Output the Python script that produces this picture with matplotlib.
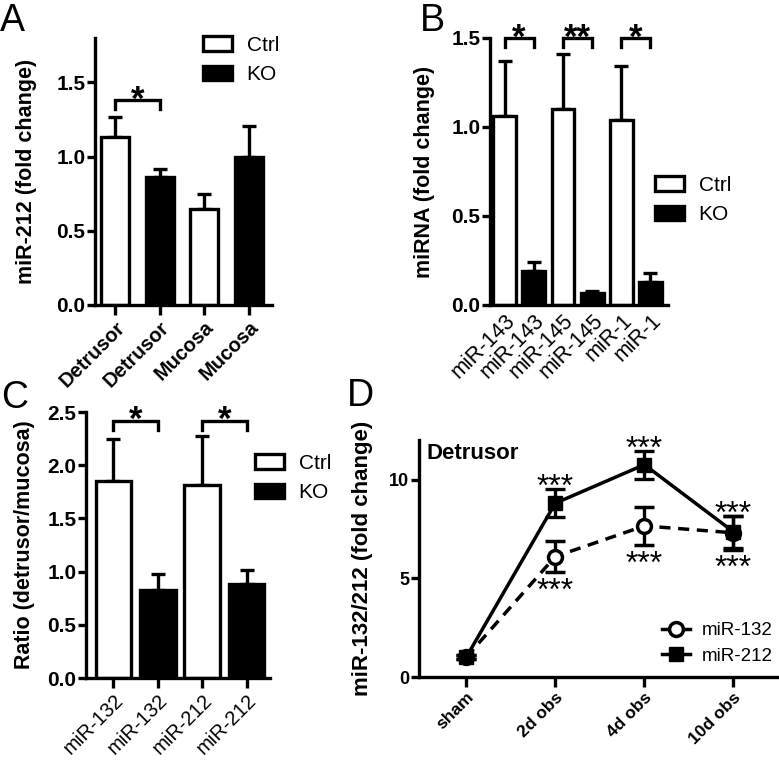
import matplotlib
matplotlib.use("Agg")
import matplotlib.pyplot as plt
from matplotlib.patches import Patch
from matplotlib.lines import Line2D
import numpy as np

plt.rcParams['font.family'] = ['Liberation Sans', 'DejaVu Sans']

# ---------------- data ----------------
# Panel A
a_labels = ["Detrusor", "Detrusor", "Mucosa", "Mucosa"]
a_groups = ["Ctrl", "KO", "Ctrl", "KO"]
a_values = [1.13, 0.86, 0.65, 1.00]
a_errors = [0.14, 0.06, 0.10, 0.21]
a_sig = [(0, 1, "*", 1.38)]

# Panel B
b_labels = ["miR-143", "miR-143", "miR-145", "miR-145", "miR-1", "miR-1"]
b_groups = ["Ctrl", "KO", "Ctrl", "KO", "Ctrl", "KO"]
b_values = [1.06, 0.19, 1.10, 0.07, 1.04, 0.13]
b_errors = [0.31, 0.05, 0.31, 0.01, 0.30, 0.05]
b_sig = [(0, 1, "*", 1.50), (2, 3, "**", 1.50), (4, 5, "*", 1.50)]

# Panel C
c_labels = ["miR-132", "miR-132", "miR-212", "miR-212"]
c_groups = ["Ctrl", "KO", "Ctrl", "KO"]
c_values = [1.85, 0.83, 1.81, 0.88]
c_errors = [0.40, 0.145, 0.46, 0.135]
c_sig = [(0, 1, "*", 2.42), (2, 3, "*", 2.42)]

# Panel D
d_labels = ["sham", "2d obs", "4d obs", "10d obs"]
d_mir132 = [1.0, 6.1, 7.65, 7.3]
d_mir132_err = [0.1, 0.78, 0.97, 0.85]
d_mir212 = [1.0, 8.8, 10.75, 7.35]
d_mir212_err = [0.1, 0.72, 0.70, 0.8]
d_sig_above = ["", "***", "***", "***"]
d_sig_below = ["", "***", "***", "***"]

# ---------------- layout helpers ----------------
W, H = 779, 761
fig = plt.figure(figsize=(W / 100, H / 100), dpi=100)


def ax_px(x0, y0, x1, y1):
    return fig.add_axes([x0 / W, 1 - y1 / H, (x1 - x0) / W, (y1 - y0) / H])


LW = 2.4
fills = {"Ctrl": "white", "KO": "black"}


def style_axes(ax, xticks=True, ytick_fs=15):
    for s in ["top", "right"]:
        ax.spines[s].set_visible(False)
    for s in ["left", "bottom"]:
        ax.spines[s].set_linewidth(LW)
    ax.tick_params(axis="y", width=LW, length=6, labelsize=ytick_fs, pad=1)
    if xticks:
        ax.tick_params(axis="x", width=LW, length=7, pad=2)
    else:
        ax.tick_params(axis="x", length=0, pad=4)
    for t in ax.get_yticklabels():
        t.set_fontweight("bold")


def bar_panel(ax, labels, groups, values, errors, sig, width, ylim, yticks,
              xlim, label_bold, xticks=True, label_fs=14.5, leg_frac=0.032):
    x = np.arange(len(values))
    colors = [fills[g] for g in groups]
    ax.errorbar(x, values, yerr=[np.zeros(len(values)), errors], fmt="none",
                ecolor="black", elinewidth=LW, capsize=5, capthick=LW, zorder=1)
    ax.bar(x, values, width=width, color=colors, edgecolor="black",
           linewidth=LW, zorder=2)
    ax.set_xlim(*xlim)
    ax.set_ylim(*ylim)
    ax.set_yticks(yticks)
    ax.set_yticklabels([f"{v:.1f}" for v in yticks])
    ax.set_xticks(x)
    ax.set_xticklabels(labels, rotation=45, ha="right", rotation_mode="anchor",
                       fontsize=label_fs,
                       fontweight="bold" if label_bold else "normal")
    style_axes(ax, xticks=xticks)
    for i, j, s, yb in sig:
        leg = (ylim[1] - ylim[0]) * leg_frac
        ax.plot([x[i], x[i], x[j], x[j]], [yb - leg, yb, yb, yb - leg],
                color="black", lw=LW, solid_joinstyle="miter", clip_on=False,
                zorder=3)
        ax.annotate(s, xy=((x[i] + x[j]) / 2, yb), xytext=(0, -7),
                    textcoords="offset points", ha="center", va="baseline",
                    fontsize=25, fontweight="bold", annotation_clip=False)
    ax.set_facecolor("none")


def bar_legend(ax, anchor_px, fs=15):
    handles = [Patch(facecolor="white", edgecolor="black", linewidth=LW, label="Ctrl"),
               Patch(facecolor="black", edgecolor="black", linewidth=LW, label="KO")]
    fx, fy = anchor_px[0] / W, 1 - anchor_px[1] / H
    ax.legend(handles=handles, loc="upper left", bbox_to_anchor=(fx, fy),
              bbox_transform=fig.transFigure, frameon=False, fontsize=fs,
              handlelength=1.4, handleheight=0.7, handletextpad=0.7,
              labelspacing=0.5, borderpad=0, borderaxespad=0)


def set_ylabel_px(ax, text, xpx, fs=15.5):
    ax.set_ylabel(text, fontsize=fs, fontweight="bold")
    bb = ax.get_position()
    xfig = xpx / W
    ax.yaxis.set_label_coords((xfig - bb.x0) / bb.width, 0.5)


# ---------------- Panel A ----------------
axA = ax_px(95, 38, 272, 305)
bar_panel(axA, a_labels, a_groups, a_values, a_errors, a_sig, width=0.63,
          ylim=(0, 1.8), yticks=[0.0, 0.5, 1.0, 1.5], xlim=(-0.45, 3.52),
          label_bold=True, label_fs=14.5)
bar_legend(axA, (203, 36))
set_ylabel_px(axA, "miR-212 (fold change)", 37)

# ---------------- Panel B ----------------
axB = ax_px(490, 38, 668, 305)
bar_panel(axB, b_labels, b_groups, b_values, b_errors, b_sig, width=0.78,
          ylim=(0, 1.5), yticks=[0.0, 0.5, 1.0, 1.5], xlim=(-0.5, 5.6),
          label_bold=False, xticks=False, label_fs=15.5, leg_frac=0.033)
bar_legend(axB, (655, 176))
set_ylabel_px(axB, "miRNA (fold change)", 435)

# ---------------- Panel C ----------------
axC = ax_px(86, 412, 270, 678)
bar_panel(axC, c_labels, c_groups, c_values, c_errors, c_sig, width=0.8,
          ylim=(0, 2.5), yticks=[0.0, 0.5, 1.0, 1.5, 2.0, 2.5], xlim=(-0.62, 3.53),
          label_bold=False, label_fs=14.5, leg_frac=0.036)
bar_legend(axC, (255, 454))
set_ylabel_px(axC, "Ratio (detrusor/mucosa)", 35)

# ---------------- Panel D ----------------
axD = ax_px(419, 440, 778, 677)
xd = np.arange(len(d_labels))
axD.errorbar(xd, d_mir132, yerr=d_mir132_err, fmt="o", color="black",
             mfc="white", mec="black", mew=2.5, ms=10, elinewidth=LW,
             capsize=7, capthick=LW, zorder=3)
axD.plot(xd, d_mir132, color="black", lw=2.5, ls=(0, (3.2, 2.2)), zorder=2)
axD.errorbar(xd, d_mir212, yerr=d_mir212_err, fmt="s", color="black",
             mfc="black", mec="black", ms=10, elinewidth=LW,
             capsize=7, capthick=LW, zorder=4)
axD.plot(xd, d_mir212, color="black", lw=2.5, zorder=2)
axD.set_xlim(-0.53, 3.5)
axD.set_ylim(0, 12)
axD.set_yticks([0, 5, 10])
axD.set_xticks(xd)
axD.set_xticklabels(d_labels, rotation=45, ha="right", rotation_mode="anchor",
                    fontsize=12.5, fontweight="bold")
style_axes(axD, ytick_fs=13)
for i in range(len(xd)):
    if d_sig_above[i]:
        axD.annotate(d_sig_above[i], xy=(xd[i], d_mir212[i] + d_mir212_err[i]),
                     xytext=(0, -5), textcoords="offset points", ha="center",
                     va="baseline", fontsize=23, annotation_clip=False)
    if d_sig_below[i]:
        axD.annotate(d_sig_below[i], xy=(xd[i], d_mir132[i] - d_mir132_err[i]),
                     xytext=(0, -20), textcoords="offset points", ha="center",
                     va="baseline", fontsize=23, annotation_clip=False)
axD.text(427 / W, 1 - 443 / H, "Detrusor", transform=fig.transFigure,
         fontsize=16, fontweight="bold", ha="left", va="top")
d_handles = [Line2D([], [], color="black", lw=2.5, marker="o", mfc="white",
                    mec="black", mew=2.5, ms=10, label="miR-132"),
             Line2D([], [], color="black", lw=2.5, marker="s", mfc="black",
                    mec="black", ms=10, label="miR-212")]
axD.legend(handles=d_handles, loc="upper left",
           bbox_to_anchor=(662 / W, 1 - 622 / H), bbox_transform=fig.transFigure,
           frameon=False, fontsize=13.5, handlelength=1.5, handletextpad=0.6,
           labelspacing=0.45, borderpad=0, borderaxespad=0)
set_ylabel_px(axD, "miR-132/212 (fold change)", 373, fs=16)

# ---------------- Panel letters ----------------
for letter, (px, py) in {"A": (0, 3), "B": (420, 3), "C": (1, 380), "D": (347, 378)}.items():
    fig.text(px / W, 1 - py / H, letter, fontsize=27, ha="left", va="top")

fig.savefig("out.png", dpi=100)
